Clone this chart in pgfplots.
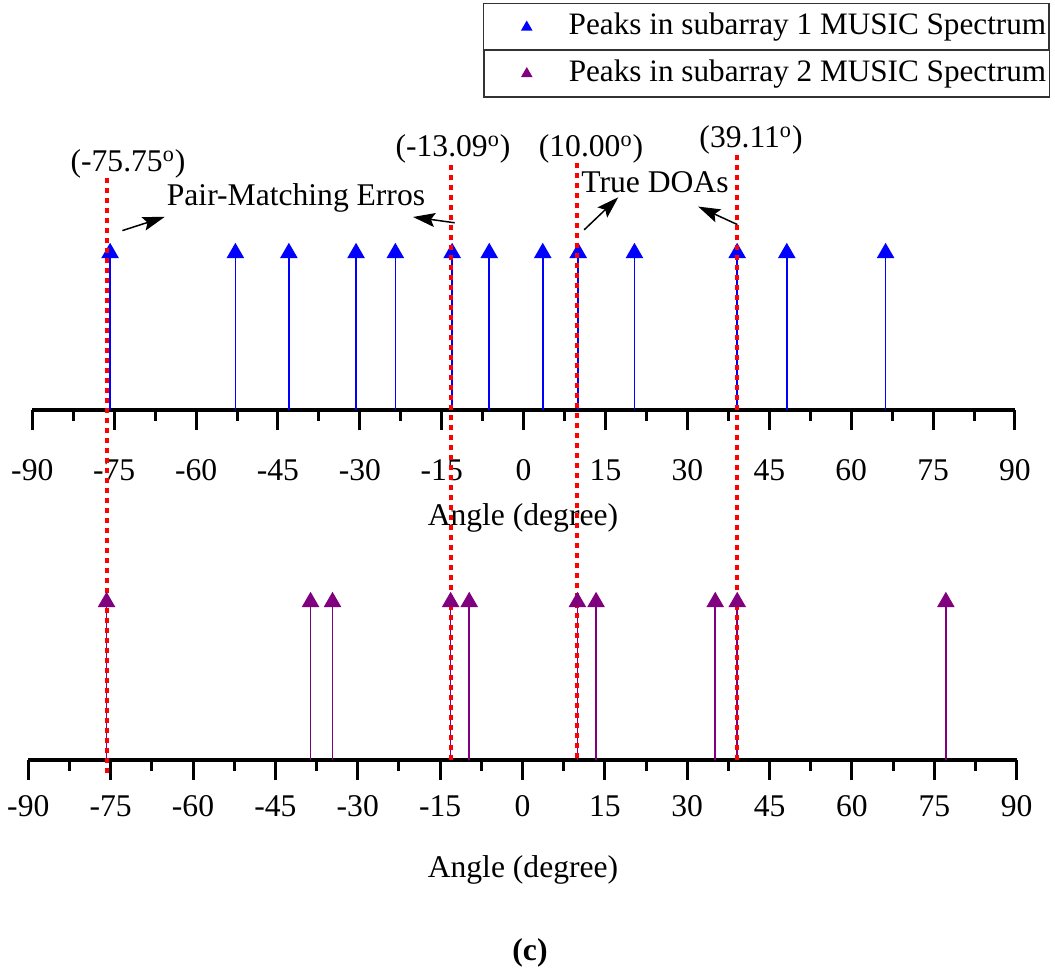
\documentclass[border=0pt]{standalone}
\usepackage{fontspec}
\setmainfont{Liberation Serif}
\usepackage{pgfplots}
\pgfplotsset{compat=1.18}
\usetikzlibrary{arrows.meta}
\definecolor{sub1}{RGB}{0,0,255}
\definecolor{sub2}{RGB}{128,0,128}
\definecolor{legframe}{RGB}{50,50,50}
\newcommand{\fnt}{\fontsize{15.8}{19}\selectfont}

\pgfplotsset{
  tri legend/.style={legend image code/.code={\draw[mark repeat=2, mark phase=2, ##1, only marks] plot coordinates {(0pt,0pt) (20pt,0pt) (40.5pt,0pt)}; \path[draw=none, fill=none] (0pt,0pt) -- (40.5pt,0pt);}},
  stemaxis/.style={
    scale only axis, anchor=south west,
    xmin=-90, xmax=90, ymin=0, ymax=1,
    axis x line=bottom, axis y line=none,
    axis line style={-, line width=1.6pt},
    xtick={-90,-75,...,90},
    xticklabels={-90,-75,-60,-45,-30,-15,0,15,30,45,60,75,90},
    minor x tick num=1,
    tick align=outside,
    major tick length=10pt, minor tick length=5.5pt,
    every tick/.append style={line width=1.5pt, black},
    tick label style={font=\fnt},
    label style={font=\fnt},
    clip=false,
    legend cell align=left,
    legend style={draw=legframe, line width=0.75pt, inner xsep=1.5pt, inner ysep=4.2pt,
      font=\fontsize{15.6}{19}\selectfont, anchor=north east, column sep=0.5pt,
      nodes={inner sep=0pt, text height=11.4pt, text depth=3.7pt}},
  }
}

\begin{document}
\begin{tikzpicture}
\useasboundingbox (0,0) rectangle (527.5pt,486pt);

% upper axis: subarray 1
\begin{axis}[stemaxis, at={(16.15pt,281pt)}, width=491.35pt, height=78.5pt,
  xticklabel style={anchor=center, yshift=-20pt},
  xlabel={Angle (degree)},
  xlabel style={at={(axis description cs:0.4993,-0.688)}, anchor=center},
  legend style={at={(axis description cs:1.0356,2.5924)}}]
\addplot[sub1, line width=0.8pt, ycomb, mark=triangle*, mark size=4.3pt,
  mark options={solid, fill=sub1}, forget plot] coordinates {
  (-75.75,1) (-52.8,1) (-43.0,1) (-30.7,1) (-23.5,1) (-13.09,1) (-6.3,1)
  (3.5,1) (10.0,1) (20.3,1) (39.11,1) (48.2,1) (66.3,1)};
\addlegendimage{only marks, mark=triangle*, color=sub1, mark size=2.6pt, tri legend}
\addlegendentry{Peaks in subarray 1 MUSIC Spectrum}
\end{axis}

% lower axis: subarray 2
\begin{axis}[stemaxis, at={(14.15pt,106pt)}, width=494.2pt, height=79pt,
  xticklabel style={anchor=center, yshift=-13pt},
  xlabel={Angle (degree)},
  xlabel style={at={(axis description cs:0.5005,-0.696)}, anchor=center},
  legend style={at={(axis description cs:1.0337,4.4968)}}]
\addplot[sub2, line width=0.8pt, ycomb, mark=triangle*, mark size=4.3pt,
  mark options={solid, fill=sub2}, forget plot] coordinates {
  (-75.75,1) (-38.6,1) (-34.6,1) (-13.09,1) (-9.7,1) (10.0,1) (13.4,1)
  (35.1,1) (39.11,1) (77.1,1)};
\addlegendimage{only marks, mark=triangle*, color=sub2, mark size=2.6pt, tri legend}
\addlegendentry{Peaks in subarray 2 MUSIC Spectrum}
% true DOAs / pair-matching lines spanning both panels
\addplot[red, line width=2pt, dash pattern=on 2.6pt off 2.4pt, forget plot] coordinates {(-75.75,3.684) (-75.75,-0.108)};
\addplot[red, line width=2pt, dash pattern=on 2.6pt off 2.4pt, forget plot] coordinates {(-13.09,3.766) (-13.09,-0.013)};
\addplot[red, line width=2pt, dash pattern=on 2.6pt off 2.4pt, forget plot] coordinates {(10.00,3.778) (10.00,-0.013)};
\addplot[red, line width=2pt, dash pattern=on 2.6pt off 2.4pt, forget plot] coordinates {(39.11,3.829) (39.11,-0.013)};
\end{axis}

% annotations (pixel coordinates, origin top-left)
\begin{scope}[x=0.5pt, y=-0.5pt, yshift=486pt, font=\fnt]
  \node at (128,164) {(-75.75\textsuperscript{o})};
  \node at (453,149) {(-13.09\textsuperscript{o})};
  \node at (591,149) {(10.00\textsuperscript{o})};
  \node at (751,140) {(39.11\textsuperscript{o})};
  \node at (296,198) {Pair-Matching Erros};
  \node at (655,182) {True DOAs};
  \draw[line width=0.75pt, -{Stealth[length=11pt, width=7pt, inset=2pt]}] (122.4,230.6) -- (164.6,217);
  \draw[line width=0.75pt, -{Stealth[length=11pt, width=7pt, inset=2pt]}] (454.7,222.8) -- (413,217);
  \draw[line width=0.75pt, -{Stealth[length=11pt, width=7pt, inset=2pt]}] (584.2,229.8) -- (618.3,197.3);
  \draw[line width=0.75pt, -{Stealth[length=11pt, width=7pt, inset=2pt]}] (737.4,224.6) -- (698.2,206.6);
  \node at (530,953) {\textbf{(c)}};
\end{scope}
\end{tikzpicture}
\end{document}
